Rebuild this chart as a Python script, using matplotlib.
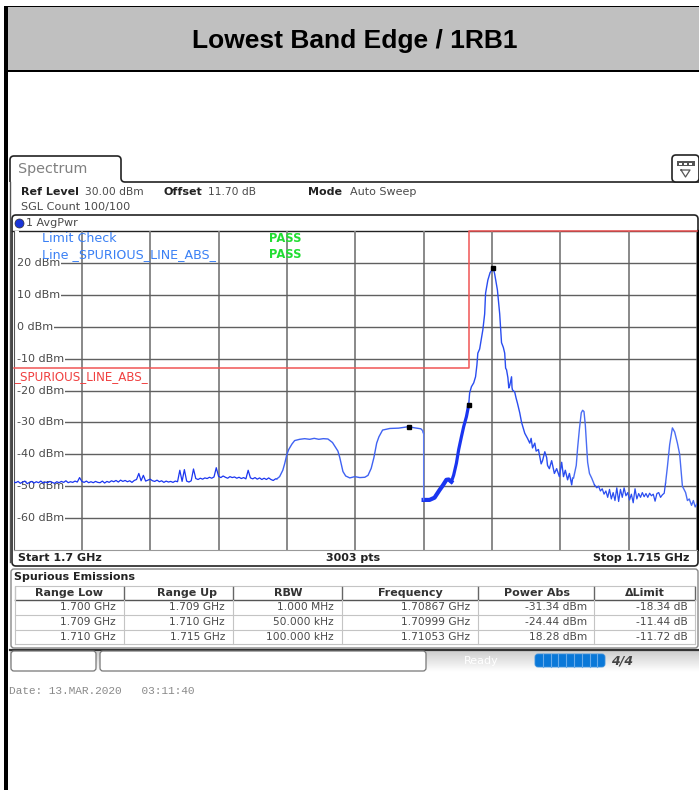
# Lowest band edge spectrum screenshot, 1RB1

import numpy as np
import matplotlib
matplotlib.use("Agg")
import matplotlib.pyplot as plt
from matplotlib.patches import FancyBboxPatch, Rectangle, PathPatch
from matplotlib.path import Path

W, H = 699, 790

# noise floor, 1700 to 1705.75 MHz in 0.05 MHz steps
floor_start = 1700.0
floor_step = 0.05
floor_levels = [
    -48.6, -48.9, -48.5, -49.1, -48.7, -48.4, -49.2, -48.8, -48.5, -49.0,
    -48.6, -48.9, -48.4, -49.0, -48.7, -48.9, -48.5, -48.8, -49.1, -48.6,
    -48.9, -48.5, -48.8, -48.3, -48.9, -48.6, -48.8, -48.4, -48.7, -47.3,
    -48.5, -48.8, -48.4, -48.9, -48.6, -48.9, -48.5, -48.8, -48.9, -48.4,
    -49.0, -48.5, -48.8, -48.3, -48.6, -48.2, -48.7, -48.1, -48.5, -48.2,
    -48.6, -48.3, -48.8, -48.2, -47.9, -46.0, -48.3, -46.6, -48.4, -48.1,
    -47.8, -48.3, -48.5, -48.1, -48.6, -48.3, -48.8, -48.4, -48.7, -48.5,
    -48.8, -48.4, -48.6, -45.0, -48.5, -44.8, -48.4, -48.7, -48.3, -44.6,
    -47.6, -47.9, -47.5, -47.8, -47.4, -47.6, -47.2, -47.5, -47.1, -44.2,
    -46.9, -47.3, -46.8, -47.2, -47.5, -47.0, -47.3, -47.1, -47.5, -47.2,
    -47.6, -47.3, -47.7, -45.0, -47.4, -47.7, -47.3, -47.8, -47.4, -47.9,
    -47.5, -47.9, -47.4, -47.9, -48.2, -47.7,
]

# first bump and second bump, up to the range edge at 1709 MHz
bump_freq = [
    1705.78, 1705.84, 1705.91, 1705.95, 1706.00, 1706.04, 1706.11, 1706.17,
    1706.28, 1706.39, 1706.50, 1706.60, 1706.70, 1706.80, 1706.90, 1707.00,
    1707.12, 1707.16, 1707.23, 1707.29, 1707.38, 1707.49, 1707.60, 1707.71,
    1707.78, 1707.85, 1707.91, 1707.97, 1708.02, 1708.10, 1708.26, 1708.45,
    1708.67, 1708.80, 1708.94, 1708.98, 1709.00,
]
bump_level = [
    -47.7, -47.0, -45.0, -43.0, -40.0, -38.5, -36.8, -35.7,
    -35.3, -35.1, -35.3, -35.0, -35.3, -35.1, -35.2, -36.3,
    -39.0, -41.0, -45.4, -46.8, -47.4, -47.0, -47.3, -47.2,
    -46.6, -44.4, -41.0, -36.5, -34.5, -32.4, -31.9, -31.8,
    -31.34, -31.7, -32.0, -32.6, -33.5,
]

# 1 MHz range below the block edge (thick part of the trace)
edge_freq = [
    1709.00, 1709.13, 1709.24, 1709.35, 1709.42, 1709.50, 1709.55, 1709.61,
    1709.66, 1709.72, 1709.77, 1709.83, 1709.88, 1709.94, 1709.97, 1709.99,
]
edge_level = [
    -54.3, -54.3, -53.6, -51.2, -49.8, -48.0, -47.9, -48.6,
    -46.5, -42.8, -38.5, -34.5, -31.3, -28.2, -26.0, -24.44,
]

# main peak and skirt
peak_freq = [
    1709.99, 1710.01, 1710.05, 1710.10, 1710.14, 1710.17, 1710.19, 1710.23,
    1710.30, 1710.34, 1710.36, 1710.41, 1710.46, 1710.53, 1710.56, 1710.62,
    1710.67, 1710.71, 1710.75, 1710.78, 1710.80, 1710.82, 1710.85, 1710.87,
    1710.89, 1710.93, 1710.94, 1710.95, 1711.00, 1711.03, 1711.06, 1711.11,
    1711.15, 1711.22, 1711.28, 1711.33, 1711.36, 1711.39, 1711.44, 1711.47,
    1711.52, 1711.58, 1711.61, 1711.66, 1711.70, 1711.72, 1711.76, 1711.81,
    1711.87, 1711.92, 1711.98, 1712.03, 1712.07, 1712.11, 1712.16, 1712.20,
    1712.25, 1712.27,
]
peak_level = [
    -24.44, -20.8, -18.8, -17.6, -15.7, -12.0, -8.3, -7.0,
    -1.0, 4.0, 10.5, 14.6, 17.0, 18.28, 16.5, 11.5,
    4.0, -5.0, -6.5, -8.3, -13.0, -13.5, -16.0, -19.2,
    -18.5, -15.7, -19.0, -19.8, -20.5, -22.4, -24.0, -27.0,
    -30.0, -33.4, -35.0, -36.5, -35.0, -38.0, -36.5, -39.0,
    -38.5, -43.0, -42.0, -39.2, -41.0, -43.5, -44.5, -42.0,
    -46.0, -44.5, -47.0, -42.5, -47.0, -45.0, -48.0, -46.0,
    -49.6, -47.5,
]

# lobe at 1712.5 MHz
lobe_freq = [
    1712.29, 1712.35, 1712.38, 1712.42, 1712.46, 1712.49, 1712.52, 1712.55,
    1712.58, 1712.60, 1712.64, 1712.69, 1712.75,
]
lobe_level = [
    -47.5, -43.5, -38.0, -32.0, -27.0, -26.2, -26.6, -31.0,
    -38.0, -42.5, -46.0, -47.5, -49.6,
]

# noisy part, 1712.80 to 1714.28 MHz in 0.04 MHz steps
noise_start = 1712.80
noise_step = 0.04
noise_levels = [
    -50.5, -50.0, -51.5, -50.8, -52.5, -51.5, -53.5, -51.0, -54.0, -52.0,
    -54.5, -50.5, -54.8, -51.0, -53.5, -50.5, -53.0, -52.0, -54.3, -52.5,
    -55.2, -50.8, -54.0, -52.3, -53.5, -52.0, -53.3, -52.3, -53.5, -52.2,
    -53.0, -52.5, -54.7, -52.3, -52.0, -53.5, -52.7, -52.2,
]

# last lobe up to the stop frequency
tail_freq = [
    1714.31, 1714.35, 1714.40, 1714.46, 1714.51, 1714.57, 1714.62, 1714.68,
    1714.75, 1714.79, 1714.83, 1714.88, 1714.92, 1714.96, 1715.00,
]
tail_level = [
    -49.0, -44.0, -37.0, -31.72, -33.0, -36.5, -40.0, -50.0,
    -52.0, -54.5, -54.0, -56.0, -54.5, -56.5, -55.5,
]

limit_freq = [1700, 1710, 1710, 1715]
limit_level = [-13, -13, 30, 30]

marker_freq = [1708.67, 1709.99, 1710.53]
marker_level = [-31.34, -24.44, 18.28]

y_ticks = [20, 10, 0, -10, -20, -30, -40, -50, -60]
x_ticks = [1700 + 1.5 * i for i in range(11)]

table_head = ["Range Low", "Range Up", "RBW", "Frequency", "Power Abs", "\u0394Limit"]
range_low = ["1.700 GHz", "1.709 GHz", "1.710 GHz"]
range_up = ["1.709 GHz", "1.710 GHz", "1.715 GHz"]
rbw = ["1.000 MHz", "50.000 kHz", "100.000 kHz"]
frequency = ["1.70867 GHz", "1.70999 GHz", "1.71053 GHz"]
power_abs = ["-31.34 dBm", "-24.44 dBm", "18.28 dBm"]
delta_limit = ["-18.34 dB", "-11.44 dB", "-11.72 dB"]

GREY_TEXT = "#4a4a4a"
TRACE = "#1a35f0"
FS = 7.7
FS_HEAD = 8.0

fig = plt.figure(figsize=(W / 100, H / 100), dpi=100)

# whole-page axes in pixel units for the instrument chrome
bg = fig.add_axes([0, 0, 1, 1])
bg.axis("off")


def box(x0, y0, x1, y1, fc="white", ec="black", lw=1.0, r=4, z=1):
    p = FancyBboxPatch((x0 + r, y0 + r), x1 - x0 - 2 * r, y1 - y0 - 2 * r,
                       boxstyle="round,pad=%d,rounding_size=%d" % (r, r),
                       fc=fc, ec=ec, lw=lw, zorder=z)
    bg.add_patch(p)


def label(x, y, s, color=GREY_TEXT, weight="normal", ha="left", size=FS, **kw):
    bg.text(x, y, s, color=color, fontweight=weight, ha=ha, va="center",
            fontsize=size, zorder=8, **kw)


# title band and page border
bg.add_patch(Rectangle((8, 7), W - 8, 63, fc="#c0c0c0", ec="none"))
bg.add_patch(Rectangle((4, 6), W - 4, 1, fc="black", ec="none"))
bg.add_patch(Rectangle((4, 70), W - 4, 2, fc="black", ec="none"))
bg.add_patch(Rectangle((4, 6), 4, H - 6, fc="black", ec="none"))
bg.text(354.5, 41, "Lowest Band Edge / 1RB1", ha="center", va="center",
        fontsize=19, fontweight="bold", family="Liberation Sans", color="black")

# outer frame and tab
bg.add_patch(Rectangle((10, 182), W - 10, 384, fc="white", ec="none"))
tab = Path([(10, 182), (10, 160), (10, 156), (14, 156), (117, 156), (121, 156),
            (121, 160), (121, 178), (121, 182), (125, 182), (W, 182)],
           [Path.MOVETO, Path.LINETO, Path.CURVE3, Path.CURVE3, Path.LINETO, Path.CURVE3,
            Path.CURVE3, Path.LINETO, Path.CURVE3, Path.CURVE3, Path.LINETO])
bg.add_patch(PathPatch(tab, fc="none", ec="#222222", lw=1.2, zorder=3))
bg.plot([10, 10], [182, 562], color="#555555", lw=1.0, zorder=3)
label(18, 169, "Spectrum", color="#808080", size=10.4)

box(672, 155, 699, 182, ec="#222222", lw=1.2, z=3)
bg.add_patch(Rectangle((677, 161), 18, 5, fc="#555555", ec="none", zorder=4))
for i in range(3):
    bg.add_patch(Rectangle((679 + i * 5, 162.5), 3, 2, fc="white", ec="none", zorder=5))
bg.plot([681, 690, 685.5, 681], [170, 170, 177, 170], color="#555555", lw=0.9, zorder=4)

label(21, 192, "Ref Level", weight="bold", color="#222222", size=FS_HEAD)
label(85, 192, "30.00 dBm")
label(163, 192, "Offset", weight="bold", color="#222222", size=FS_HEAD)
label(208, 192, "11.70 dB")
label(308, 192, "Mode", weight="bold", color="#222222", size=FS_HEAD)
label(350, 192, "Auto Sweep", size=FS_HEAD)
label(21, 207, "SGL Count 100/100", size=FS_HEAD + 0.1)

# diagram frame
box(12, 215, 698, 566, ec="#222222", lw=1.2, r=4, z=1)
bg.plot([12, 698], [231, 231], color="#222222", lw=1.0, zorder=2)
bg.plot([19], [223], "o", ms=6.5, color="#1a35d8", mec="#333333", mew=0.5, zorder=3)
label(26, 223, "1 AvgPwr", size=FS_HEAD)
label(18, 558, "Start 1.7 GHz", weight="bold", color="#222222", size=FS_HEAD)
label(353, 558, "3003 pts", weight="bold", color="#222222", ha="center", size=FS_HEAD)
label(689, 558, "Stop 1.715 GHz", weight="bold", color="#222222", ha="right", size=FS_HEAD)
bg.plot([698, 698], [231, 550], color="black", lw=1.6, zorder=6)

# spurious emissions table
box(11, 569, 698, 648, ec="#888888", lw=1.0, r=3, z=1)
label(14, 576.5, "Spurious Emissions", weight="bold", color="#222222", size=FS_HEAD)
col_edges = [15, 124, 233, 342, 478, 594, 695]
head_x = [69, 187, 288, 410, 537, 645]
cell_x = [116, 225, 334, 470, 587, 688]
row_y = [607.5, 622, 637]
bg.plot([15, 695], [599.5, 599.5], color="#555555", lw=1.0, zorder=3)
bg.plot([15, 695], [586, 586], color="#c4c4c4", lw=0.8, zorder=3)
for y in [614.5, 629.5, 644]:
    bg.plot([15, 695], [y, y], color="#c4c4c4", lw=0.8, zorder=3)
for x in col_edges:
    bg.plot([x, x], [587, 599], color="#666666" if x > 15 else "#c4c4c4", lw=1.0, zorder=3)
    bg.plot([x, x], [600, 644], color="#c4c4c4", lw=0.8, zorder=3)
for x, s in zip(head_x, table_head):
    label(x, 593, s, weight="bold", color="#333333", ha="center", size=FS_HEAD)
columns = [range_low, range_up, rbw, frequency, power_abs, delta_limit]
for x, col in zip(cell_x, columns):
    for y, s in zip(row_y, col):
        label(x, y, s, ha="right")

# status bar
bar = np.linspace(0, 1, 24)[:, None]
bg.imshow(bar, extent=(10, W, 672, 650), cmap="gray", vmin=-4, vmax=1, aspect="auto", zorder=1)
bg.plot([10, W], [649.5, 649.5], color="#333333", lw=1.6, zorder=2)
box(11, 651, 96, 671, ec="#777777", lw=0.9, r=3, z=2)
box(100, 651, 426, 671, ec="#777777", lw=0.9, r=3, z=2)
label(464, 661, "Ready", color="white", size=FS_HEAD)
box(535, 654, 605, 667, fc="#0a78d8", ec="#3a90dd", lw=0.6, r=3, z=2)
for i in range(1, 9):
    bg.plot([535 + i * 7.8] * 2, [654, 667], color="#66aaea", lw=0.8, zorder=3)
label(622, 660.5, "4/4", color="#444444", weight="bold", ha="center", style="italic", size=9)
label(9, 691, "Date: 13.MAR.2020   03:11:40", color="#8a8a8a", family="Liberation Mono", size=8.05)

bg.set_xlim(0, W)
bg.set_ylim(H, 0)

# the diagram itself, real data axes lined up with the grid of the screenshot
left, right, top, bottom = 13.5, 697.0, 231.0, 550.0
ax = fig.add_axes([left / W, 1 - bottom / H, (right - left) / W, (bottom - top) / H])
ax.patch.set_alpha(0)
ax.set_xlim(1700, 1715)
ax.set_ylim(-70, 30)
ax.set_xticks(x_ticks)
ax.set_yticks(y_ticks)
ax.tick_params(length=0, labelbottom=False, labelleft=False)
ax.grid(axis="x", color="#808080", lw=1.3, zorder=1)
ax.grid(axis="y", color="#606060", lw=1.0, zorder=1)
ax.set_axisbelow(True)
for side in ["top", "right"]:
    ax.spines[side].set_visible(False)
ax.spines["left"].set_color("#555555")
ax.spines["bottom"].set_color("#999999")

# grid does not reach the frame left of the level labels
ax.axvspan(1700.015, 1700.12, color="white", lw=0, zorder=1.5)

for level in y_ticks:
    ax.text(0.0058, level, "%d dBm" % level, transform=ax.get_yaxis_transform(),
            ha="left", va="center", fontsize=FS_HEAD, color=GREY_TEXT, zorder=2,
            bbox=dict(fc="white", ec="none", pad=0.6))

ax.plot(limit_freq, limit_level, color="#f05555", lw=1.1, zorder=3, clip_on=False)
ax.text(0.001, -15.7, "_SPURIOUS_LINE_ABS_", transform=ax.get_yaxis_transform(),
        ha="left", va="center", fontsize=8.6, color="#f04040", zorder=3)

ax.text(0.042, 27.5, "Limit Check", transform=ax.get_yaxis_transform(), ha="left", va="center",
        fontsize=9.1, color="#3a80f5", zorder=4)
ax.text(0.042, 22.5, "Line _SPURIOUS_LINE_ABS_", transform=ax.get_yaxis_transform(), ha="left",
        va="center", fontsize=9.1, color="#3a80f5", zorder=4)
ax.text(0.374, 27.5, "PASS", transform=ax.get_yaxis_transform(), ha="left", va="center",
        fontsize=8.3, color="#22dd33", fontweight="bold", zorder=4)
ax.text(0.374, 22.5, "PASS", transform=ax.get_yaxis_transform(), ha="left", va="center",
        fontsize=8.3, color="#22dd33", fontweight="bold", zorder=4)

floor_freq = floor_start + floor_step * np.arange(len(floor_levels))
noise_freq = noise_start + noise_step * np.arange(len(noise_levels))
ax.plot(np.r_[floor_freq, bump_freq[0]], np.r_[floor_levels, bump_level[0]], color=TRACE, lw=0.9, zorder=5)
ax.plot(bump_freq, bump_level, color="#3f62f2", lw=1.0, zorder=5)
ax.plot(edge_freq[:8], edge_level[:8], color=TRACE, lw=3.0, zorder=5)
ax.plot(edge_freq[7:], edge_level[7:], color=TRACE, lw=2.3, zorder=5)
ax.plot(bump_freq[-2:] + [edge_freq[0]], bump_level[-2:] + [edge_level[0]], color="#5c7cf5", lw=0.9, zorder=5)
ax.plot(peak_freq, peak_level, color="#2a4df0", lw=1.0, zorder=5)
ax.plot(peak_freq[-1:] + lobe_freq, peak_level[-1:] + lobe_level, color="#4a6cf3", lw=1.0, zorder=5)
ax.plot(np.r_[lobe_freq[-1], noise_freq, tail_freq[0]],
        np.r_[lobe_level[-1], noise_levels, tail_level[0]], color="#2a4df0", lw=0.9, zorder=5)
ax.plot(tail_freq, tail_level, color="#4a6cf3", lw=1.0, zorder=5)
ax.plot(marker_freq, marker_level, "s", color="black", ms=3, zorder=6)

fig.savefig("out.png", dpi=100)
